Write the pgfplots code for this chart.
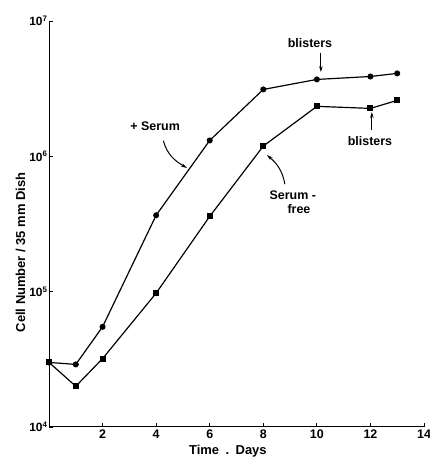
\documentclass[border=0pt]{standalone}
\usepackage{fontspec}
\setmainfont{Liberation Sans}
\usepackage{pgfplots}
\pgfplotsset{compat=1.18}
\usetikzlibrary{arrows.meta}
\begin{document}
\begin{tikzpicture}
\path[use as bounding box] (-49bp,-32bp) rectangle (381bp,427bp);
\begin{axis}[
    at={(0,0)}, anchor=south west,
    scale only axis, width=375bp, height=406bp,
    ymode=log,
    xmin=0, xmax=14, ymin=1e4, ymax=1e7,
    axis lines=left, axis line style={-, line width=1pt},
    xtick={2,4,...,14},
    xticklabels={2,4,6,8,10,12,14},
    ytick={1e4,1e5,1e6,1e7},
    yticklabels={10\textsuperscript{4},10\textsuperscript{5},10\textsuperscript{6},10\textsuperscript{7}},
    /pgf/number format/assume math mode=true,
    yminorticks=false,
    tick align=inside, major tick length=4bp,
    tick style={line width=0.8pt, black},
    tick label style={font=\bfseries\fontsize{12.5}{14}\selectfont},
    xticklabel style={yshift=1bp},
    yticklabel style={xshift=2bp, font=\bfseries\fontsize{12}{13}\selectfont},
    label style={font=\bfseries\fontsize{13}{14}\selectfont},
    xlabel={Time\enspace.\enspace Days},
    xlabel style={at={(rel axis cs:0.477,-0.06)}, anchor=center},
    ylabel={Cell Number / 35 mm Dish},
    ylabel style={at={(rel axis cs:-0.076,0.43)}, anchor=center, rotate=0},
    clip=false,
]
\addplot[black, line width=1.2pt, mark=*, mark size=2.4pt] coordinates {
    (0,3.0e4) (1,2.9e4) (2,5.5e4) (4,3.67e5) (6,1.31e6)
    (8,3.12e6) (10,3.7e6) (12,3.89e6) (13,4.1e6)
};
\addplot[black, line width=1.2pt, mark=square*, mark size=2.4pt] coordinates {
    (0,3.0e4) (1,2.0e4) (2,3.2e4) (4,9.75e4) (6,3.6e5)
    (8,1.19e6) (10,2.34e6) (12,2.26e6) (13,2.59e6)
};
\begin{scope}[font=\bfseries\fontsize{12.5}{14}\selectfont,
    line width=1pt, -{Stealth[length=6bp,width=3.5bp]}]
\node at (rel axis cs:0.283,0.741) {+ Serum};
\draw (rel axis cs:0.305,0.705) to[out=-75,in=150] (rel axis cs:0.368,0.638);
\node at (rel axis cs:0.696,0.946) {blisters};
\draw (rel axis cs:0.725,0.920) -- (rel axis cs:0.725,0.874);
\node at (rel axis cs:0.856,0.704) {blisters};
\draw (rel axis cs:0.861,0.732) -- (rel axis cs:0.861,0.776);
\node[align=center, inner sep=1pt] at (rel axis cs:0.650,0.554) {Serum -\\ \hspace*{1.0em}free};
\draw (rel axis cs:0.629,0.598) to[out=100,in=-40] (rel axis cs:0.581,0.670);
\end{scope}
\end{axis}
\end{tikzpicture}
\end{document}
